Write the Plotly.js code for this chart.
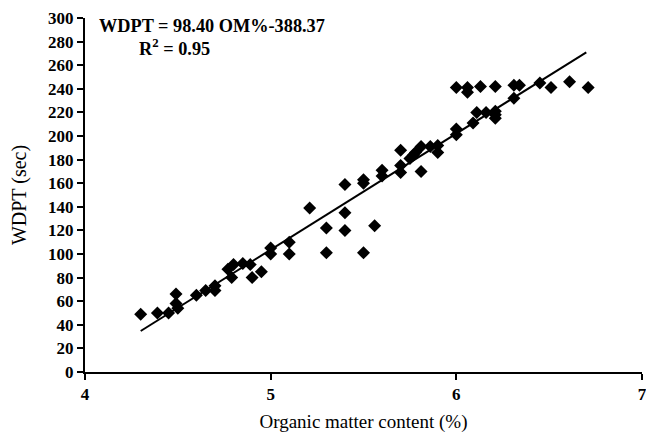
<!DOCTYPE html>
<html>
<head>
<meta charset="utf-8">
<script src="https://cdn.plot.ly/plotly-3.0.1.min.js"></script>
<style>html,body{margin:0;padding:0;background:#fff;}#chart{width:646px;height:433px;}</style>
</head>
<body>
<div id="chart"></div>
<script>
const omContent = [4.30,4.39,4.45,4.49,4.49,4.50,4.60,4.65,4.70,4.70,4.77,4.79,4.80,4.85,4.89,4.90,4.95,5.00,5.00,5.10,5.10,5.21,5.30,5.30,5.40,5.40,5.40,5.50,5.50,5.50,5.56,5.60,5.60,5.70,5.70,5.70,5.75,5.77,5.78,5.81,5.81,5.86,5.90,5.90,6.00,6.00,6.00,6.06,6.06,6.09,6.11,6.13,6.16,6.21,6.21,6.21,6.21,6.31,6.31,6.34,6.45,6.51,6.61,6.71];
const wdpt = [49,50,50,66,58,54,65,69,73,69,87,80,91,92,91,80,85,105,100,110,100,139,122,101,159,135,120,163,160,101,124,171,166,188,175,169,181,184,186,191,170,191,192,186,206,201,241,241,237,211,220,242,220,242,221,218,215,232,243,243,245,241,246,241];
const slope = 98.40, intercept = -388.37;
const fitX = [4.3, 6.7];
const fitY = fitX.map(x => slope * x + intercept);
const yTicks = [0,20,40,60,80,100,120,140,160,180,200,220,240,260,280,300];
const xTicks = [4,5,6,7];

const serif = 'Liberation Serif, Times New Roman, serif';
const data = [
  {x: omContent, y: wdpt, type: 'scatter', mode: 'markers',
   marker: {symbol: 'diamond', size: 10, color: '#000'}, hoverinfo: 'none'},
  {x: fitX, y: fitY, type: 'scatter', mode: 'lines',
   line: {color: '#000', width: 2}, hoverinfo: 'none'}
];
const layout = {
  width: 646, height: 433,
  margin: {l: 85, r: 4, t: 18, b: 61},
  paper_bgcolor: '#fff', plot_bgcolor: '#fff',
  showlegend: false,
  xaxis: {range: [4, 7], tickvals: xTicks, ticktext: xTicks.map(String),
    ticklabeloverflow: 'allow',
    showgrid: false, zeroline: false, showline: true, linecolor: '#000', linewidth: 2,
    ticks: 'outside', ticklen: 6, tickwidth: 2, tickcolor: '#000',
    tickfont: {family: serif, size: 17, color: '#000', weight: 'bold'},
    title: {text: 'Organic matter content (%)', font: {family: serif, size: 19, color: '#000'}, standoff: 11}},
  yaxis: {range: [0, 300], tickvals: yTicks,
    showgrid: false, zeroline: false, showline: true, linecolor: '#000', linewidth: 2,
    ticks: 'outside', ticklen: 6, tickwidth: 2, tickcolor: '#000',
    tickfont: {family: serif, size: 17, color: '#000', weight: 'bold'},
    title: {text: 'WDPT (sec)', font: {family: serif, size: 20, color: '#000'}, standoff: 16}},
  annotations: [
    {text: '<b>WDPT = 98.40 OM%-388.37</b>', xref: 'paper', yref: 'paper', x: 0.022, y: 0.978,
     xanchor: 'left', yanchor: 'middle', showarrow: false, font: {family: serif, size: 18.3, color: '#000'}},
    {text: '<b>R<sup>2</sup> = 0.95</b>', xref: 'paper', yref: 'paper', x: 0.094, y: 0.918,
     xanchor: 'left', yanchor: 'middle', showarrow: false, font: {family: serif, size: 18.3, color: '#000'}}
  ]
};
Plotly.newPlot('chart', data, layout, {staticPlot: true, displayModeBar: false});
</script>
</body>
</html>
